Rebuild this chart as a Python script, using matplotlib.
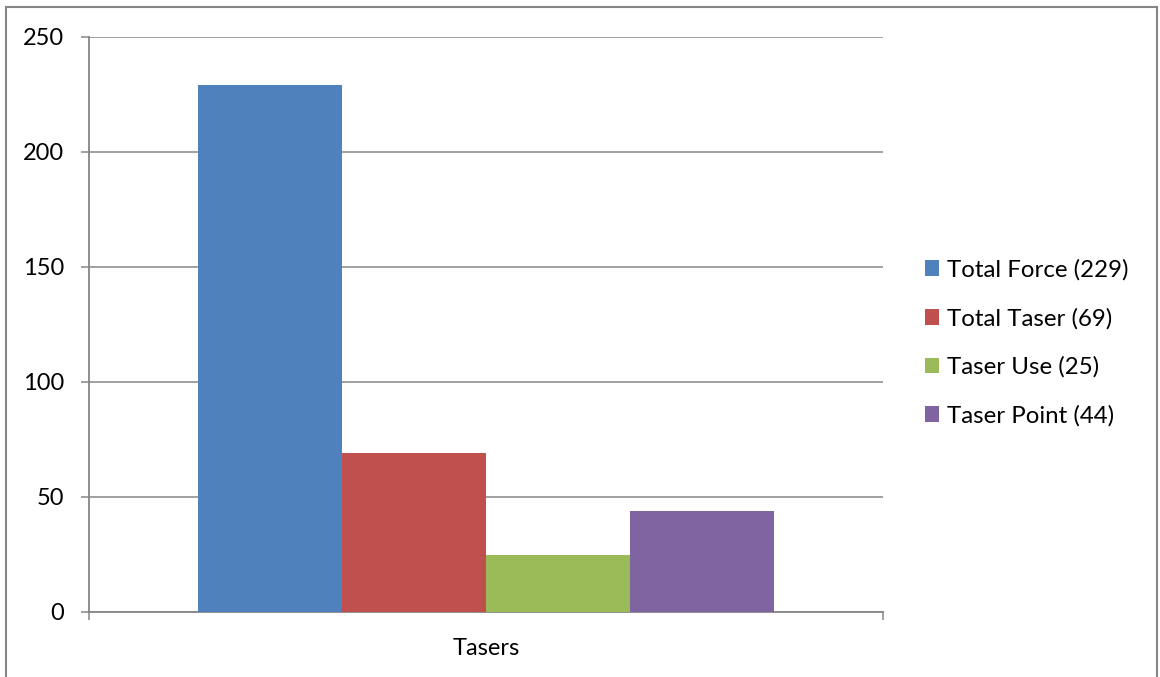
import matplotlib.pyplot as plt
from matplotlib.patches import Rectangle

# data
category = "Tasers"
series = ["Total Force (229)", "Total Taser (69)", "Taser Use (25)", "Taser Point (44)"]
values = [229, 69, 25, 44]
colors = ["#4F81BD", "#C0504D", "#9BBB59", "#8064A2"]
yticks = [0, 50, 100, 150, 200, 250]

plt.rcParams['font.family'] = ['Lato', 'DejaVu Sans']
grey = "#868686"

fig = plt.figure(figsize=(11.6, 6.77), dpi=100)
ax = fig.add_axes([89 / 1160, 1 - 612 / 677, (883 - 89) / 1160, (612 - 37) / 677])

w = 0.1814
n = len(values)
for i, (lab, v, c) in enumerate(zip(series, values, colors)):
    ax.bar((i - (n - 1) / 2) * w, v, width=w, color=c, label=lab, zorder=3)

ax.set_xlim(-0.5, 0.5)
ax.set_ylim(0, 250)
ax.set_yticks(yticks)
ax.set_yticklabels([str(t) for t in yticks], fontsize=17)
ax.yaxis.grid(True, color=grey, linewidth=1.1, zorder=0)
ax.tick_params(axis='y', length=5.8, width=1.1, color=grey, pad=12)

# category ticks at the edges, label in the middle
ax.set_xticks([0])
ax.set_xticklabels([category], fontsize=17)
ax.set_xticks([-0.5, 0.5], minor=True)
ax.tick_params(axis='x', which='major', length=0, pad=19)
ax.tick_params(axis='x', which='minor', length=5.8, width=1.1, color=grey)

for s in ['top', 'right']:
    ax.spines[s].set_visible(False)
for s in ['left', 'bottom']:
    ax.spines[s].set_color(grey)
    ax.spines[s].set_linewidth(1.3)

fig.legend(loc='center left', bbox_to_anchor=(0.797, 0.4935), frameon=False,
           fontsize=17.3, handlelength=0.62, handleheight=0.62, handletextpad=0.3,
           labelspacing=1.13, borderpad=0, borderaxespad=0)

# outer chart border
fig.patches.append(Rectangle((6 / 1160, -0.01), (1157 - 6) / 1160, 1.01 - 7 / 677,
                             transform=fig.transFigure, fill=False,
                             edgecolor=grey, linewidth=1.5))

plt.savefig("out.png", dpi=100)
